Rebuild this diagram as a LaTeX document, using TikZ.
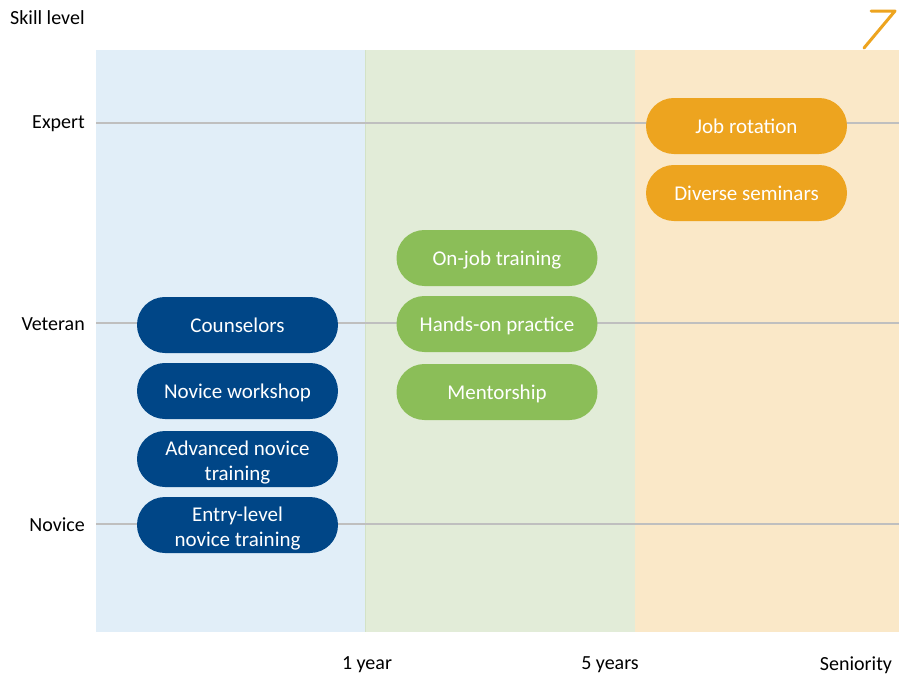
\documentclass[tikz,border=0pt]{standalone}
\usepackage{fontspec}
\setmainfont{Carlito}
\definecolor{bgblue}{HTML}{E1EEF8}
\definecolor{bggreen}{HTML}{E2ECD8}
\definecolor{bgorange}{HTML}{FAE8C8}
\definecolor{pblue}{HTML}{004687}
\definecolor{pgreen}{HTML}{8BBE58}
\definecolor{porange}{HTML}{EDA41F}
\definecolor{gridgray}{HTML}{BFBFBF}
\definecolor{sepgreen}{HTML}{D3E2C6}
\newcommand{\firststrut}{\rule{0pt}{22.5pt}}
\tikzset{
  pill/.style={rectangle, rounded corners=27.9pt, minimum width=201pt, minimum height=56pt,
    text=white, align=center, inner sep=0pt,
    font=\fontsize{21}{25}\selectfont},
  oneline/.style={text height=15pt, text depth=0pt},
  bluepill/.style={pill, fill=pblue},
  greenpill/.style={pill, fill=pgreen},
  orangepill/.style={pill, fill=porange},
  axislabel/.style={font=\fontsize{20}{23}\selectfont, inner sep=0pt},
  gridline/.style={draw=gridgray, line width=2pt}
}
\begin{document}
\begin{tikzpicture}[x=1pt,y=-1pt]
\useasboundingbox (0,0) rectangle (899,675);
\fill[white] (0,0) rectangle (899,675);
% background bands
\fill[bgblue] (96,50) rectangle (365,632);
\fill[bggreen] (365,50) rectangle (635,632);
\fill[bgorange] (635,50) rectangle (899,632);
\draw[sepgreen, line width=1pt] (365.5,50) -- (365.5,632);
% grid lines
\coordinate (e0) at (96,123); \coordinate (e1) at (899,123);
\coordinate (v0) at (96,323); \coordinate (v1) at (899,323);
\coordinate (n0) at (96,524); \coordinate (n1) at (899,524);
\draw[gridline] (e0) -- (e1);
\draw[gridline] (v0) -- (v1);
\draw[gridline] (n0) -- (n1);
% axis labels
\node[axislabel, anchor=west] (skill) at (10,18) {Skill level};
\node[axislabel, anchor=east] (expert) at (85,124) {Expert};
\node[axislabel, anchor=east] (veteran) at (85,324) {Veteran};
\node[axislabel, anchor=east] (novice) at (85,525) {Novice};
\node[axislabel] (oneyear) at (367,665) {1 year};
\node[axislabel] (fiveyears) at (610,665) {5 years};
\node[axislabel] (seniority) at (856,665) {Seniority};
% arrow mark
\coordinate (a1) at (871,11); \coordinate (a2) at (895,11); \coordinate (a3) at (864,48);
\draw[porange, line width=3pt, line cap=round, line join=round] (a1) -- (a2) -- (a3);
% blue pills
\node[bluepill, oneline] (couns) at (237.5,325) {Counselors};
\node[bluepill, oneline] (nwork) at (237.5,391) {Novice workshop};
\node[bluepill] (advn) at (237.5,459) {\firststrut Advanced novice\\training};
\node[bluepill] (entry) at (237.5,525) {\firststrut Entry-level\\novice training};
% green pills
\node[greenpill, oneline] (onjob) at (497,258) {On-job training};
\node[greenpill, oneline] (hands) at (497,324) {Hands-on practice};
\node[greenpill, oneline] (mentor) at (497,392) {Mentorship};
% orange pills
\node[orangepill, oneline] (jobrot) at (746.5,126) {Job rotation};
\node[orangepill, oneline] (divsem) at (746.5,193) {Diverse seminars};
\end{tikzpicture}
\end{document}
